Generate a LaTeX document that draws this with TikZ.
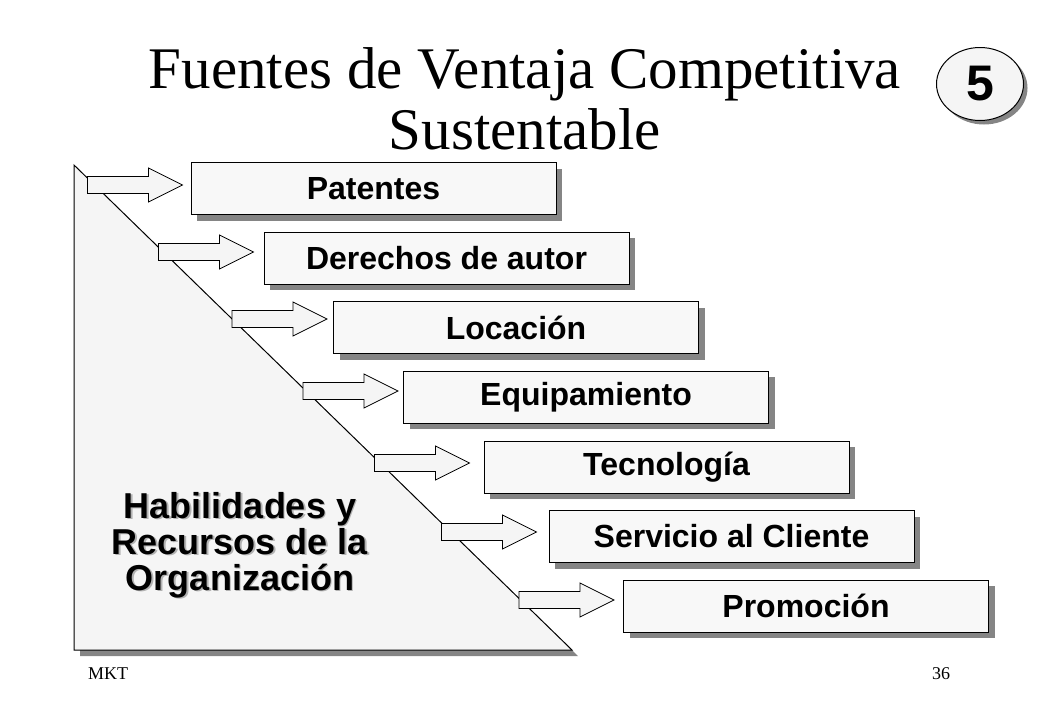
\documentclass[tikz,border=0pt]{standalone}
\usepackage{fontspec}
\setmainfont{Liberation Serif}
\setsansfont{Liberation Sans}
\usepackage{tikz}
\usetikzlibrary{positioning}
\usetikzlibrary{shadows}
\usetikzlibrary{shapes.geometric}

\definecolor{relleno}{HTML}{F5F5F5}
\definecolor{rellenocaja}{HTML}{F8F8F8}
\definecolor{sombragris}{HTML}{858585}

\tikzset{
	sombra/.style={drop shadow={shadow xshift=6pt,shadow yshift=-6pt,fill=sombragris,opacity=1}},
	caja/.style={draw,line width=1pt,fill=rellenocaja,sombra,minimum width=365pt,minimum height=52pt,
		inner sep=0pt,font=\sffamily\bfseries\fontsize{32}{36}\selectfont},
	flechaest/.style={draw,line width=0.8pt,fill=relleno},
	etiq/.style={align=center,font=\sffamily\bfseries\fontsize{36}{36}\selectfont},
	pics/flecha/.style={code={
		\draw[flechaest] (0pt,0pt) -- (-34pt,17pt) -- (-34pt,8.5pt) -- (-95pt,8.5pt)
			-- (-95pt,-8.5pt) -- (-34pt,-8.5pt) -- (-34pt,-17pt) -- cycle;}}
}

\begin{document}
\begin{tikzpicture}[x=1pt,y=-1pt]
		\useasboundingbox (0,0) rectangle (1040,720);
		
		% titulo
		\node[anchor=north,inner sep=0pt,align=center,font=\fontsize{59}{61}\selectfont] (titulo) at (525,47.5) {Fuentes de Ventaja Competitiva\\Sustentable};
		\node[ellipse,draw,line width=1pt,fill=relleno,minimum width=87pt,minimum height=73pt,inner sep=0pt,
			drop shadow={shadow xshift=4pt,shadow yshift=-4pt,fill=sombragris,opacity=1},
			font=\sffamily\bfseries\fontsize{50}{50}\selectfont] (num) at (980,84) {5};
		
		% triangulo
		\draw[line width=1pt,fill=relleno,sombra] (74,165) -- (74,650) -- (572,650) -- cycle;
		
		% cajas
		\node[caja] (pat) at (373.5,188.5) {Patentes};
		\node[caja] (der) at (446.5,258) {Derechos de autor};
		\node[caja] (loc) at (516,327.5) {Locación};
		\node[caja] (equ) at (586,397) {Equipamiento};
		\node[caja] (tec) at (666.5,467) {Tecnología};
		\node[caja] (ser) at (731.5,536.5) {Servicio al Cliente};
		\node[caja] (pro) at (806,606) {Promoción};
		
		% flechas
		\pic at ([shift={(-8pt,3.5pt)}]pat.west) {flecha};
		\pic at ([shift={(-10pt,6pt)}]der.west) {flecha};
		\pic at ([shift={(-6pt,8.5pt)}]loc.west) {flecha};
		\pic at ([shift={(-5pt,6pt)}]equ.west) {flecha};
		\pic at ([shift={(-14pt,4pt)}]tec.west) {flecha};
		\pic at ([shift={(-12pt,4.5pt)}]ser.west) {flecha};
		\pic at ([shift={(-9pt,6pt)}]pro.west) {flecha};
		
		% texto del triangulo (con sombra suave)
		\node[etiq,text=black!30] (habsom) at (241.5,546.5) {Habilidades y\\Recursos de la\\Organización};
		\node[etiq] (hab) at (240,545) {Habilidades y\\Recursos de la\\Organización};
		
		% pie
		\node[anchor=base west,inner sep=0pt,font=\fontsize{18}{18}\selectfont] (mkt) at (88,679) {MKT};
		\node[anchor=base west,inner sep=0pt,font=\fontsize{18}{18}\selectfont] (pag) at (932,679) {36};
	\end{tikzpicture}
\end{document}
